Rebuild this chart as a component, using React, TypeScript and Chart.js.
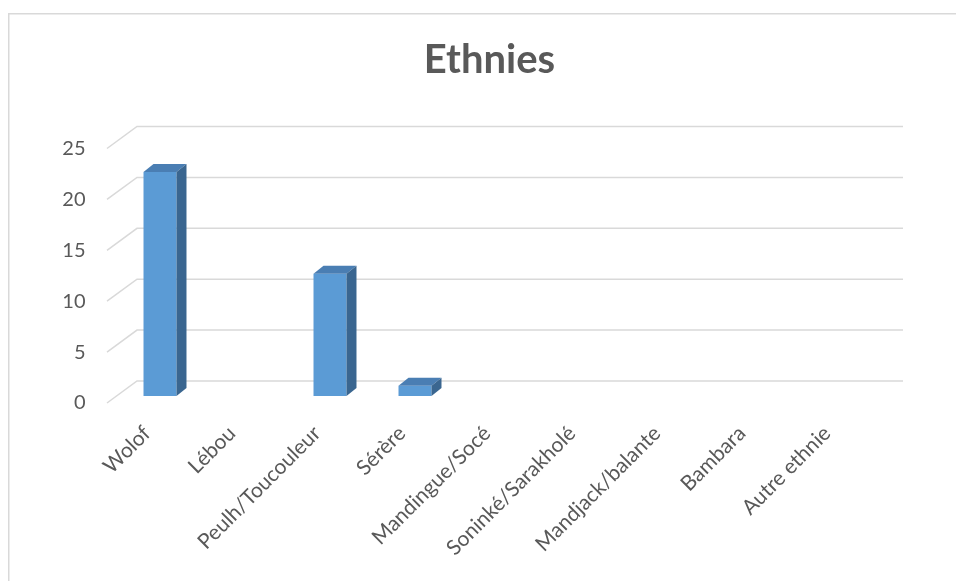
import React, { useEffect, useRef } from 'react';
import { Chart, registerables } from 'chart.js';

Chart.register(...registerables);

const chartTitle = 'Ethnies';
const categories = [
  'Wolof',
  'Lébou',
  'Peulh/Toucouleur',
  'Sérère',
  'Mandingue/Socé',
  'Soninké/Sarakholé',
  'Mandjack/balante',
  'Bambara',
  'Autre ethnie',
];
const values = [22, 0, 12, 1, 0, 0, 0, 0, 0];
const yTicks = [0, 5, 10, 15, 20, 25];

const FRONT = '#5B9BD5';
const TOP = '#4A7EB3';
const SIDE = '#3A6690';
const GRID = '#D9D9D9';
const TEXT = '#595959';
const FONT = 'Lato, "Open Sans", sans-serif';

const borderPlugin = {
  id: 'border',
  beforeDraw(chart: any) {
    const { ctx, width, height } = chart;
    ctx.save();
    ctx.fillStyle = '#FFFFFF';
    ctx.fillRect(0, 0, width, height);
    ctx.strokeStyle = GRID;
    ctx.lineWidth = 1.5;
    ctx.strokeRect(8.75, 13.75, width + 20, height + 20);
    ctx.restore();
  },
};

const gridPlugin = {
  id: 'grid3d',
  beforeDatasetsDraw(chart: any) {
    const { ctx, chartArea, scales } = chart;
    const y = scales.y;
    ctx.save();
    ctx.strokeStyle = GRID;
    ctx.lineWidth = 1.5;
    yTicks.forEach((v) => {
      const py = y.getPixelForValue(v);
      ctx.beginPath();
      ctx.moveTo(chartArea.left - 10.5, py + 7);
      ctx.lineTo(chartArea.left + 19.5, py - 15);
      ctx.lineTo(chartArea.right + 20.5, py - 15);
      ctx.stroke();
    });
    ctx.restore();
  },
};

const DX = 10;
const DY = 8;

const bar3dPlugin = {
  id: 'bar3d',
  afterDatasetsDraw(chart: any) {
    const { ctx } = chart;
    const meta = chart.getDatasetMeta(0);
    ctx.save();
    meta.data.forEach((bar: any, i: number) => {
      if (!values[i]) return;
      const { x, y, base, width } = bar.getProps(['x', 'y', 'base', 'width'], true);
      const l = x - width / 2;
      const r = x + width / 2;
      ctx.fillStyle = TOP;
      ctx.beginPath();
      ctx.moveTo(l, y);
      ctx.lineTo(r, y);
      ctx.lineTo(r + DX, y - DY);
      ctx.lineTo(l + DX, y - DY);
      ctx.closePath();
      ctx.fill();
      ctx.fillStyle = SIDE;
      ctx.beginPath();
      ctx.moveTo(r, y);
      ctx.lineTo(r + DX, y - DY);
      ctx.lineTo(r + DX, base - DY);
      ctx.lineTo(r, base);
      ctx.closePath();
      ctx.fill();
    });
    ctx.restore();
  },
};

export default function App() {
  const ref = useRef<HTMLCanvasElement | null>(null);

  useEffect(() => {
    if (!ref.current) return;
    const chart = new Chart(ref.current, {
      type: 'bar',
      data: {
        labels: categories,
        datasets: [
          {
            data: values,
            backgroundColor: FRONT,
            borderWidth: 0,
            barPercentage: 0.388,
            categoryPercentage: 1,
          },
        ],
      },
      options: {
        animation: false,
        responsive: false,
        layout: { padding: { top: 0, right: 0, bottom: 0, left: 23 } },
        plugins: {
          legend: { display: false },
          tooltip: { enabled: false },
          title: {
            display: true,
            text: chartTitle,
            color: TEXT,
            font: { family: FONT, size: 40, weight: 'bold', lineHeight: 1.2 },
            padding: { top: 36, bottom: 57.5 },
          },
        },
        scales: {
          x: {
            grid: { display: false, drawTicks: false },
            border: { display: false },
            ticks: {
              color: TEXT,
              font: { family: FONT, size: 21 },
              minRotation: 45,
              maxRotation: 45,
              autoSkip: false,
              padding: 25,
              labelOffset: -13,
            },
            afterFit: (s: any) => {
              s.height = 185;
            },
          },
          y: {
            min: 0,
            max: 25,
            grid: { display: false, drawTicks: false },
            border: { display: false },
            ticks: {
              stepSize: 5,
              color: TEXT,
              font: { family: FONT, size: 20 },
              padding: 32,
              labelOffset: 7,
            },
            afterFit: (s: any) => {
              s.width = 94.5;
            },
          },
          yRight: {
            position: 'right',
            display: true,
            grid: { display: false, drawTicks: false },
            border: { display: false },
            ticks: { display: false },
            afterFit: (s: any) => {
              s.width = 73.5;
            },
          },
        },
      },
      plugins: [borderPlugin, gridPlugin, bar3dPlugin],
    });
    return () => chart.destroy();
  }, []);

  return (
    <div style={{ position: 'absolute', left: 0, top: 0, width: 956, height: 581 }}>
      <canvas ref={ref} width={956} height={581} />
    </div>
  );
}
